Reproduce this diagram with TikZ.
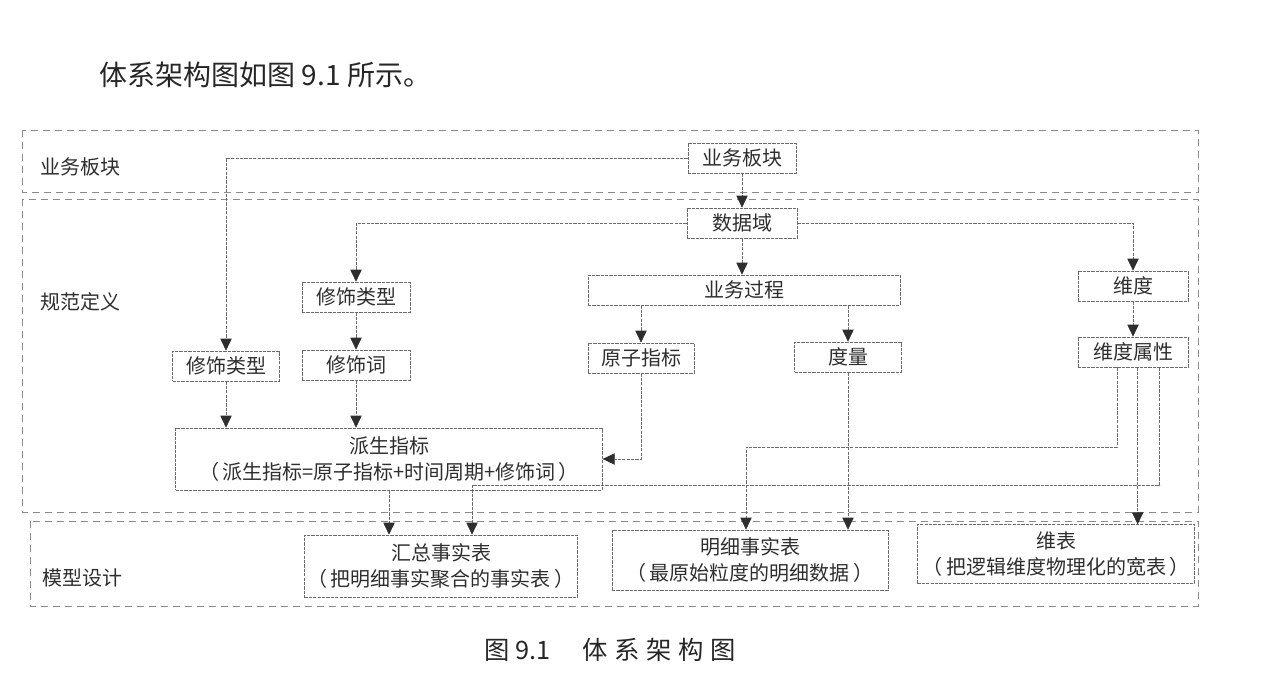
\documentclass[tikz,border=0pt]{standalone}
\usepackage{fontspec}
\setmainfont{Noto Sans CJK SC}
\usetikzlibrary{arrows.meta}
\definecolor{inkgray}{HTML}{2E2E2E}
\definecolor{linegray}{HTML}{6A6A6A}
\definecolor{zonegray}{HTML}{8C8C8C}
\tikzset{
  box/.style={draw=linegray, dash pattern=on 2.5pt off 0.8pt, line width=0.5pt,
    text=inkgray, font=\fontsize{15}{20}\selectfont, inner sep=0pt,
    minimum height=22.5pt, align=center},
  link/.style={draw=linegray, dash pattern=on 2.5pt off 0.8pt, line width=0.5pt,
    -{Triangle[length=9pt,width=8.5pt,color=inkgray]}},
  zone/.style={draw=zonegray, dash pattern=on 5pt off 4pt, line width=0.6pt},
  zonelabel/.style={text=inkgray, font=\fontsize{15}{20}\selectfont, anchor=west}
}
\begin{document}
\begin{tikzpicture}[x=0.75pt,y=-0.75pt]
  \useasboundingbox (0,0) rectangle (1280,682);
  % heading and caption
  \node[anchor=west, text=black!85, font=\fontsize{21}{25}\selectfont] (head) at (95,75) {体系架构图如图 9.1 所示。};
  \node[anchor=west, text=black!85, font=\fontsize{19}{23}\selectfont] (cap) at (480,650)
    {图 9.1\hspace{24pt}体\hspace{5pt}系\hspace{5pt}架\hspace{5pt}构\hspace{5pt}图};

  % zones
  \draw[zone] (22,130) rectangle (1198,192);
  \draw[zone] (22,199) rectangle (1198,512);
  \draw[zone] (30,521) rectangle (1198,606);
  \node[zonelabel] (zbk) at (36,167) {业务板块};
  \node[zonelabel] (zgf) at (36,302) {规范定义};
  \node[zonelabel] (zmx) at (38,578) {模型设计};

  % nodes
  \node[box, minimum width=81pt] (bk) at (742,158) {业务板块};
  \node[box, minimum width=82.5pt] (sjy) at (742,223) {数据域};
  \node[box, minimum width=81pt] (xslx) at (356,297) {修饰类型};
  \node[box, minimum width=234pt] (ywgc) at (744,290) {业务过程};
  \node[box, minimum width=82.5pt] (wd) at (1133,286) {维度};
  \node[box, minimum width=80pt] (xslx2) at (226,366) {修饰类型};
  \node[box, minimum width=81pt] (xsc) at (356,365) {修饰词};
  \node[box, minimum width=79.5pt] (yzzb) at (641,358) {原子指标};
  \node[box, minimum width=80pt] (dl) at (848,357) {度量};
  \node[box, minimum width=82.5pt] (wdsx) at (1133,352) {维度属性};
  \node[box, minimum width=320pt, minimum height=46.5pt] (pszb) at (389,459)
    {派生指标\\（\,派生指标=原子指标+时间周期+修饰词\,）};
  \node[box, minimum width=205pt, minimum height=46.5pt] (hzb) at (441,566)
    {汇总事实表\\（\,把明细事实聚合的事实表\,）};
  \node[box, minimum width=207pt, minimum height=45pt] (mxb) at (750,560)
    {明细事实表\\（\,最原始粒度的明细数据\,）};
  \node[box, minimum width=208pt, minimum height=44pt] (wb) at (1056,554)
    {维表\\（\,把逻辑维度物理化的宽表\,）};

  % helper corners
  \coordinate (k1) at (746,447);
  \coordinate (k2) at (472,485);

  % links
  \draw[link] (bk.west) -| (xslx2.north);
  \draw[link] (bk.south) -- (sjy.north);
  \draw[link] (sjy.west) -| (xslx.north);
  \draw[link] (sjy.south) -- (sjy.south |- ywgc.north);
  \draw[link] (sjy.east) -| (wd.north);
  \draw[link] (xslx.south) -- (xsc.north);
  \draw[link] (ywgc.south -| yzzb.north) -- (yzzb.north);
  \draw[link] (ywgc.south -| dl.north) -- (dl.north);
  \draw[link] (wd.south) -- (wdsx.north);
  \draw[link] (xslx2.south) -- (xslx2.south |- pszb.north);
  \draw[link] (xsc.south) -- (xsc.south |- pszb.north);
  \draw[link] (yzzb.south) |- (pszb.east);
  \draw[link] (pszb.south) -- (pszb.south |- hzb.north);
  \draw[link] ([xshift=-12pt]wdsx.south) |- (k1) -- (k1 |- mxb.north);
  \draw[link] (dl.south) -- (dl.south |- mxb.north);
  \draw[link] ([xshift=3.5pt]wdsx.south) -- ([xshift=3.5pt]wdsx.south |- wb.north);
  \draw[link] ([xshift=20pt]wdsx.south) |- (k2) -- (k2 |- hzb.north);
\end{tikzpicture}
\end{document}
